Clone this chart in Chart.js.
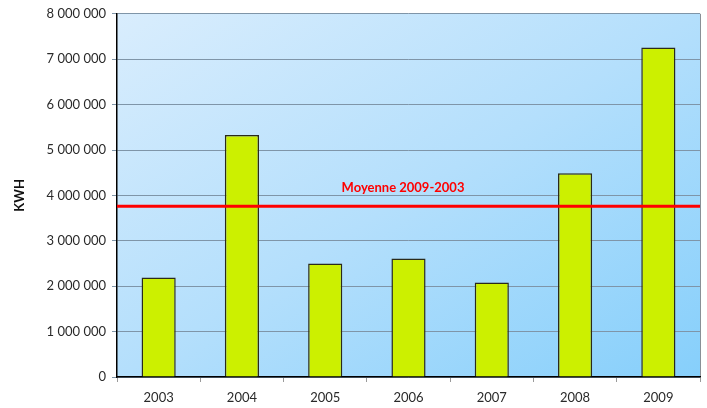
<!DOCTYPE html>
<html>
<head>
<meta charset="utf-8">
<script src="https://cdn.jsdelivr.net/npm/chart.js@4.4.0/dist/chart.umd.min.js"></script>
<style>
  html, body { margin: 0; padding: 0; background: #fff; }
  #wrap { width: 707px; height: 408px; }
</style>
</head>
<body>
<div id="wrap"><canvas id="bar-chart" width="707" height="408"></canvas></div>
<script>
const years = ["2003", "2004", "2005", "2006", "2007", "2008", "2009"];
const kwh = [2190000, 5330000, 2500000, 2610000, 2080000, 4490000, 7260000];
const average = 3760000;
const averageLabel = "Moyenne 2009-2003";
const yTicks = [0, 1000000, 2000000, 3000000, 4000000, 5000000, 6000000, 7000000, 8000000];

const font = "'Lato', 'DejaVu Sans', sans-serif";

// gradient behind the plot, border on the right, red average line
const plotDecor = {
  id: 'plotDecor',
  beforeDraw(chart) {
    const { ctx, chartArea: a } = chart;
    const w = a.right - a.left, h = a.bottom - a.top;
    // direction perpendicular to the other diagonal, so TR and BL share a colour
    const len = Math.sqrt(w * w + h * h);
    const dx = h / len, dy = w / len;
    const t = w * dx + h * dy;
    const g = ctx.createLinearGradient(a.left, a.top, a.left + dx * t, a.top + dy * t);
    g.addColorStop(0, '#d9edfd');
    g.addColorStop(0.5, '#b4dffc');
    g.addColorStop(1, '#86cffb');
    ctx.save();
    ctx.fillStyle = g;
    ctx.fillRect(a.left, a.top, w, h);
    ctx.strokeStyle = '#8a8f96';
    ctx.lineWidth = 1;
    ctx.beginPath();
    ctx.moveTo(a.right + 0.5, a.top);
    ctx.lineTo(a.right + 0.5, a.bottom);
    ctx.stroke();
    ctx.restore();
  },
  afterDatasetsDraw(chart) {
    const { ctx, chartArea: a, scales } = chart;
    const y = scales.y.getPixelForValue(average);
    ctx.save();
    ctx.strokeStyle = '#ff0000';
    ctx.lineWidth = 3;
    ctx.beginPath();
    ctx.moveTo(a.left, y);
    ctx.lineTo(a.right, y);
    ctx.stroke();
    ctx.fillStyle = '#ff0000';
    ctx.font = "bold 13px " + font;
    ctx.textAlign = 'center';
    ctx.textBaseline = 'bottom';
    ctx.fillText(averageLabel, 403, y - 12);
    ctx.restore();
  }
};

new Chart(document.getElementById("bar-chart"), {
  type: 'bar',
  data: {
    labels: years,
    datasets: [{
      label: "KWH",
      data: kwh,
      backgroundColor: '#ccf000',
      borderColor: '#2a2a1a',
      borderWidth: 1.5,
      borderSkipped: 'bottom',
      barPercentage: 0.41,
      categoryPercentage: 1
    }]
  },
  plugins: [plotDecor],
  options: {
    responsive: false,
    animation: false,
    layout: { padding: { top: 8, right: 7, left: 12, bottom: 0 } },
    plugins: {
      legend: { display: false },
      tooltip: { enabled: false }
    },
    scales: {
      x: {
        grid: {
          display: true,
          drawOnChartArea: false,
          drawTicks: true,
          tickLength: 5,
          color: '#9a9a9a',
          offset: true
        },
        border: { color: '#000', width: 1.5 },
        ticks: { color: '#2a2a2a', font: { family: font, size: 13 }, padding: 8 },
        afterFit(s) { s.height = 31; }
      },
      y: {
        min: 0,
        max: 8000000,
        afterBuildTicks(s) { s.ticks = yTicks.map(v => ({ value: v })); },
        grid: { color: '#7f95a8', tickLength: 5, lineWidth: 1 },
        border: { color: '#000', width: 1.5 },
        ticks: {
          color: '#2a2a2a',
          font: { family: font, size: 13 },
          padding: 6,
          callback: v => String(v).replace(/\B(?=(\d{3})+(?!\d))/g, ' ')
        },
        title: {
          display: true,
          text: 'KWH',
          color: '#111',
          font: { family: font, size: 13, weight: 'bold' },
          padding: { top: 0, bottom: 4 }
        },
        afterFit(s) { s.width = 105; }
      }
    }
  }
});
</script>
</body>
</html>
